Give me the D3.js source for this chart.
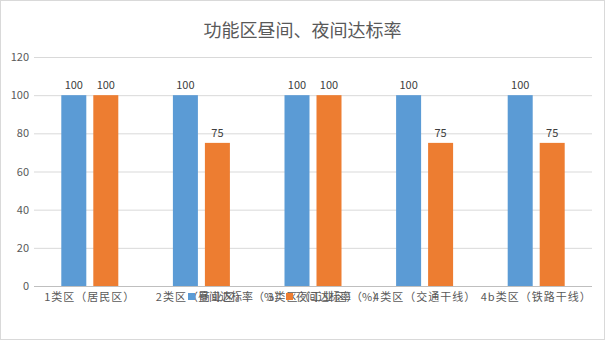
<!DOCTYPE html>
<html><head><meta charset="utf-8">
<script src="https://cdn.jsdelivr.net/npm/d3@7"></script>
<style>body{margin:0;background:#fff;}svg{display:block;font-family:"Noto Sans CJK SC","Noto Sans",sans-serif;}</style>
</head><body><svg id="c" width="605" height="340"></svg>
<script>
const categories = ["1类区（居民区）","2类区（商业区）","3类区（工业区）","4类区（交通干线）","4b类区（铁路干线）"];
const dayValues = [100,100,100,100,100];
const nightValues = [100,75,100,75,75];
const seriesNames = ["昼间达标率（%）","夜间达标率（%）"];
const yTicks = [0,20,40,60,80,100,120];
const title = "功能区昼间、夜间达标率";

const colors = ["#5B9BD5","#ED7D31"];
const svg = d3.select("#c");
svg.append("rect").attr("x",0.5).attr("y",0.5).attr("width",604).attr("height",339).attr("fill","#fff").attr("stroke","#d9d9d9");
const m = {l:34, r:592, t:57, b:286};
const x = d3.scaleBand().domain(categories).range([m.l,m.r]);
const y = d3.scaleLinear().domain([0,120]).range([m.b,m.t]);

svg.append("text").attr("x",302.5).attr("y",37).attr("text-anchor","middle").attr("font-size",18).attr("fill","#595959").text(title);

const g = svg.append("g");
yTicks.forEach(t=>{
  g.append("line").attr("x1",m.l).attr("x2",m.r).attr("y1",y(t)+0.5).attr("y2",y(t)+0.5).attr("stroke",t===0?"#bfbfbf":"#d9d9d9").attr("stroke-width",1);
  g.append("text").attr("x",m.l-5).attr("y",y(t)+4).attr("text-anchor","end").attr("font-size",11).attr("fill","#595959").text(t);
});
const bw = 25, gap = 7;
const series = [dayValues, nightValues];
series.forEach((vals,si)=>{
  categories.forEach((c,i)=>{
    const cx = x(c)+x.bandwidth()/2;
    const bx = si===0 ? cx-gap/2-bw : cx+gap/2;
    svg.append("rect").attr("x",bx).attr("y",y(vals[i])).attr("width",bw).attr("height",y(0)-y(vals[i])).attr("fill",colors[si]);
    svg.append("text").attr("x",bx+bw/2).attr("y",y(vals[i])-6).attr("text-anchor","middle").attr("font-size",11).attr("fill","#404040").text(vals[i]);
  });
});
categories.forEach(c=>{
  svg.append("text").attr("x",x(c)+x.bandwidth()/2).attr("y",301).attr("text-anchor","middle").attr("font-size",11).attr("letter-spacing",1).attr("fill","#595959").text(c);
});
// legend
const lg = svg.append("g");
const lx = [188, 286];
seriesNames.forEach((n,i)=>{
  lg.append("rect").attr("x",lx[i]).attr("y",293).attr("width",7).attr("height",7).attr("fill",colors[i]);
  lg.append("text").attr("x",lx[i]+10).attr("y",301).attr("font-size",11).attr("fill","#595959").text(n);
});
</script></body></html>
